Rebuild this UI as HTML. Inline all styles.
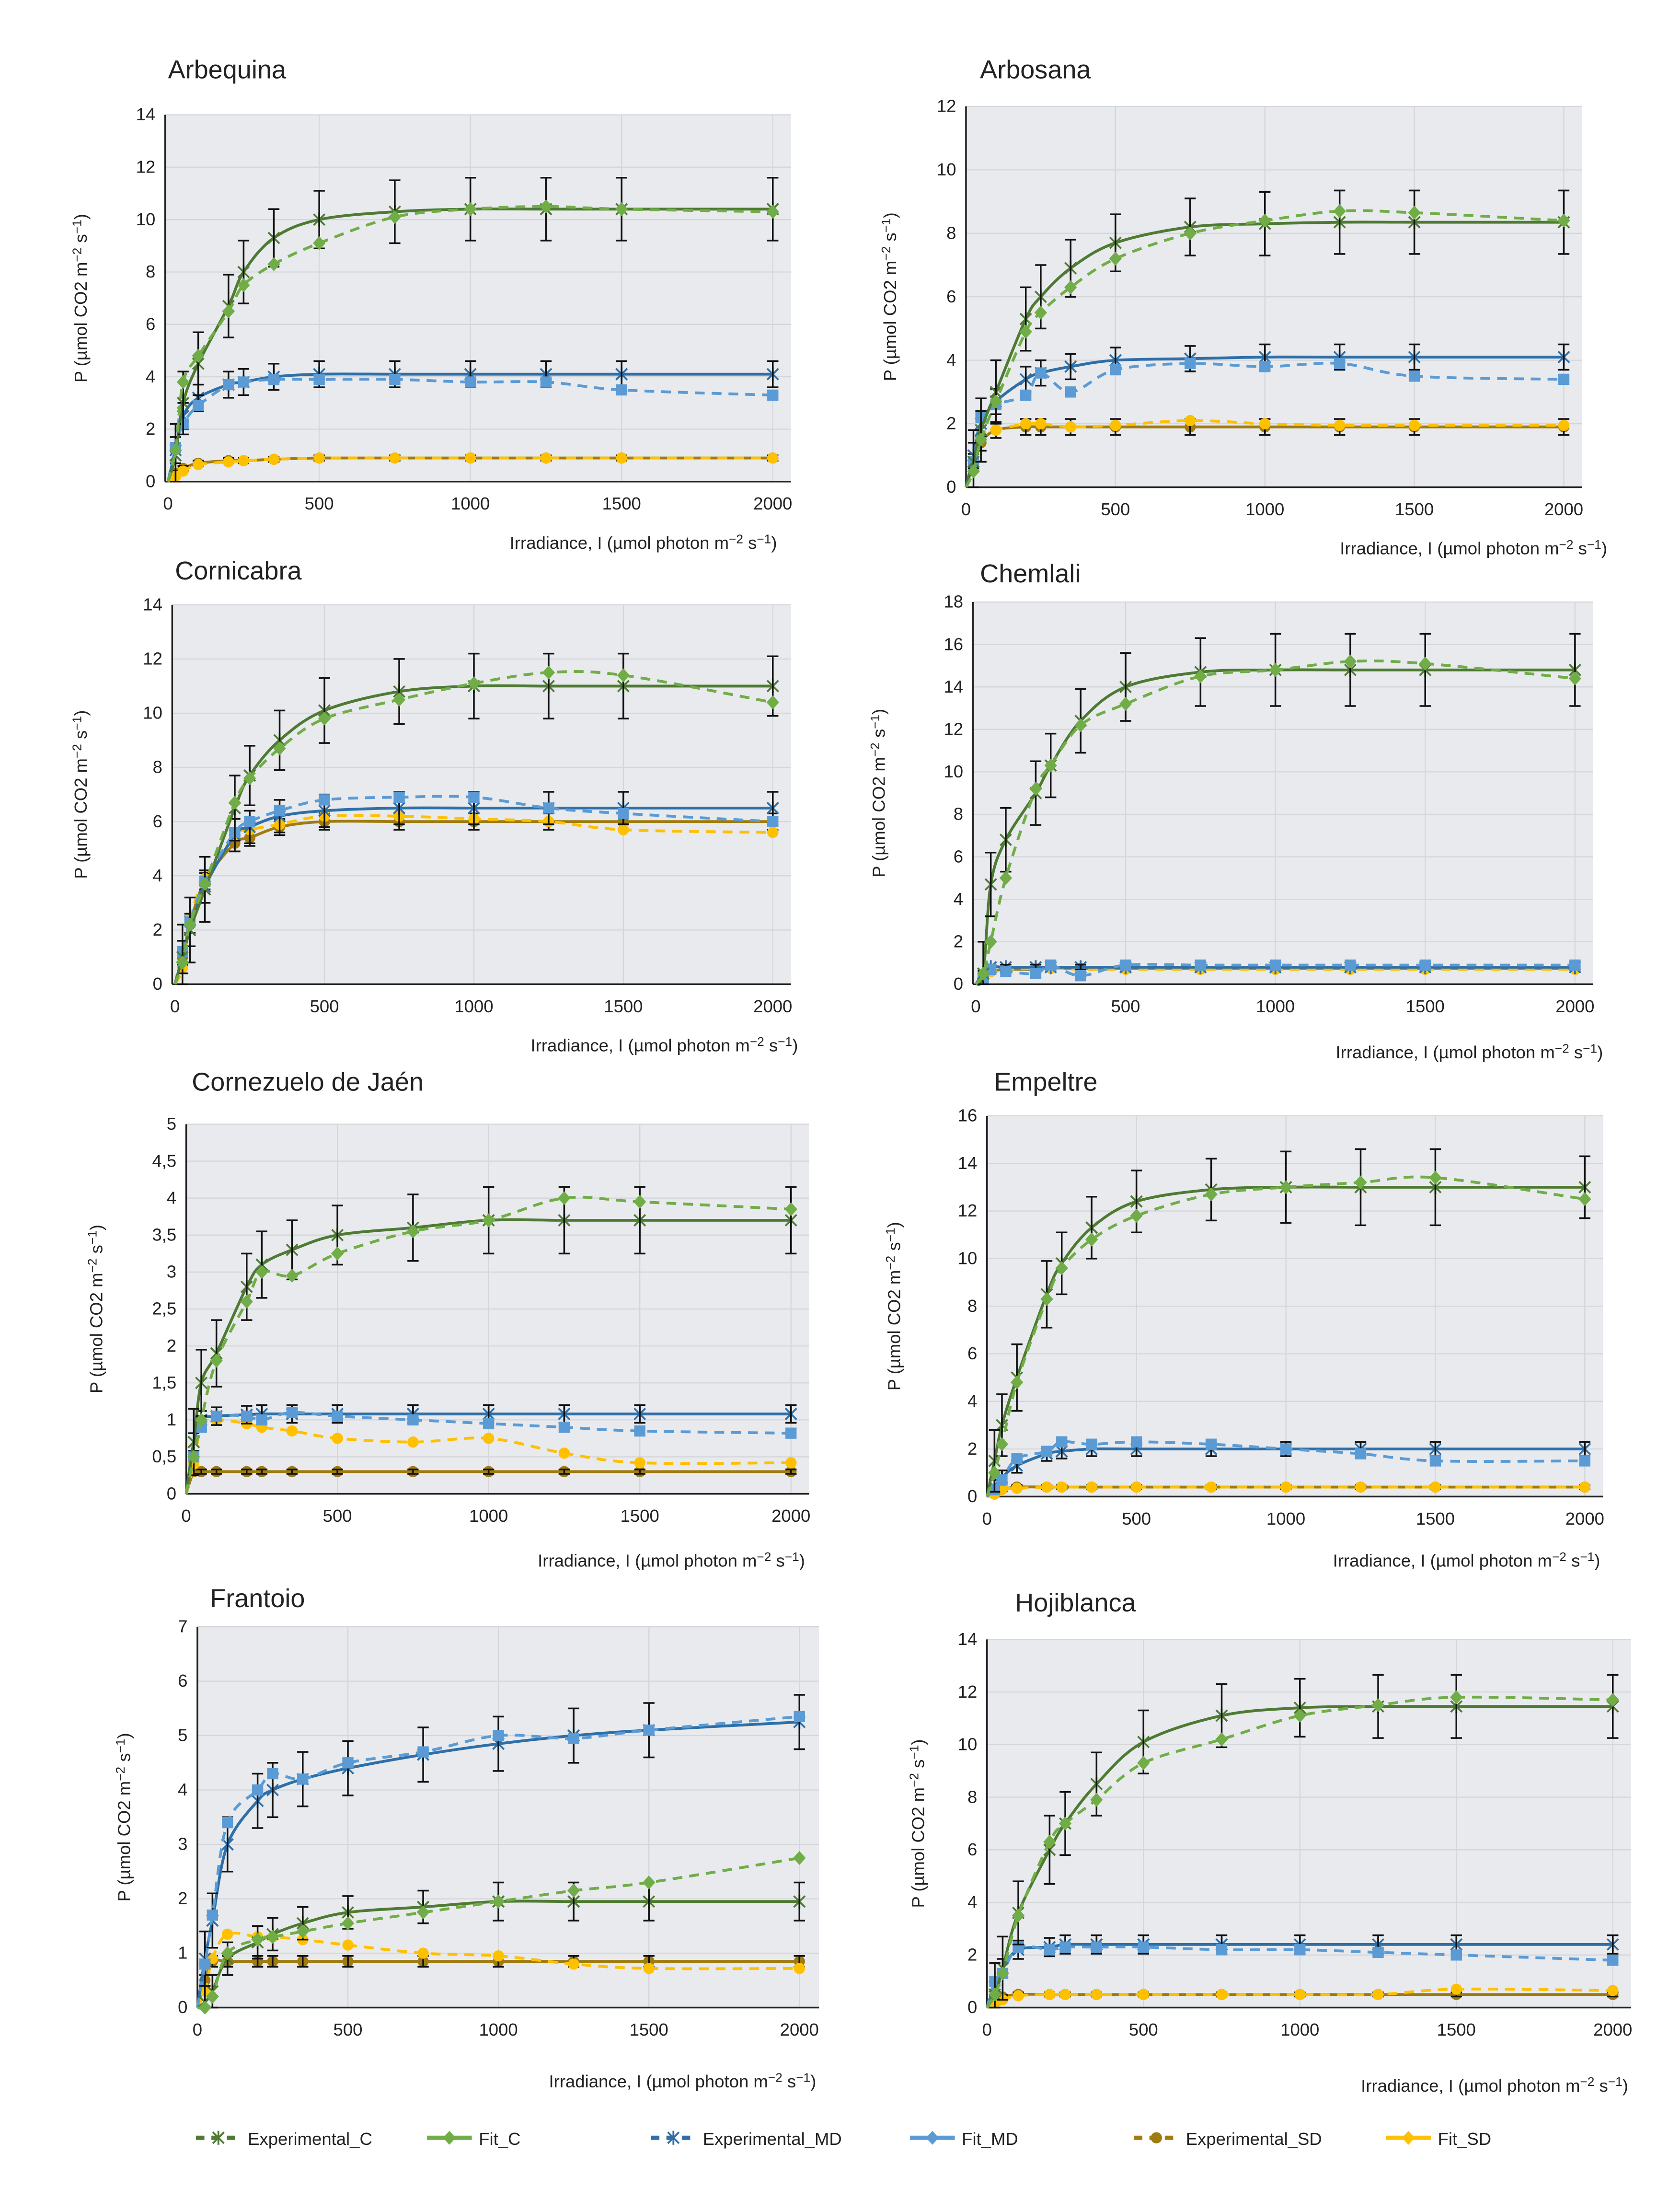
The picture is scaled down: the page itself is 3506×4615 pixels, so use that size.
<!DOCTYPE html>
<html><head><meta charset="utf-8"><style>
html,body{margin:0;padding:0;background:#fff;}
svg{display:block;font-family:"Liberation Sans",sans-serif;}
</style></head><body>
<svg id="fig" width="3506" height="4615" viewBox="0 0 1200 1580" preserveAspectRatio="none" xmlns="http://www.w3.org/2000/svg"></svg>
<script>
const irradiance=[25,50,100,200,250,350,500,750,1000,1250,1500,2000];
const xTicks=[0,500,1000,1500,2000];
// Arbequina
const arbequinaExpC=[1.0,3.0,4.5,6.7,8.0,9.3,10.0,10.3,10.4,10.4,10.4,10.4];
const arbequinaFitC=[1.2,3.8,4.8,6.5,7.5,8.3,9.1,10.1,10.4,10.5,10.4,10.3];
const arbequinaExpMD=[1.2,2.5,3.2,3.7,3.8,4.0,4.1,4.1,4.1,4.1,4.1,4.1];
const arbequinaFitMD=[1.3,2.2,2.9,3.7,3.8,3.9,3.9,3.9,3.8,3.8,3.5,3.3];
const arbequinaExpSD=[0.3,0.5,0.7,0.8,0.8,0.85,0.9,0.9,0.9,0.9,0.9,0.9];
const arbequinaFitSD=[0.2,0.4,0.65,0.75,0.8,0.85,0.9,0.9,0.9,0.9,0.9,0.9];
const arbequinaErr=[1.2,1.2,1.2,1.2,1.2,1.1,1.1,1.2,1.2,1.2,1.2,1.2];
// Arbosana
const arbosanaExpC=[0.8,1.8,3.0,5.3,6.0,6.9,7.7,8.2,8.3,8.35,8.35,8.35];
const arbosanaFitC=[0.5,1.5,2.7,4.9,5.5,6.3,7.2,8.0,8.4,8.7,8.65,8.4];
const arbosanaExpMD=[1.0,2.0,2.7,3.4,3.6,3.8,4.0,4.05,4.1,4.1,4.1,4.1];
const arbosanaFitMD=[0.8,2.2,2.6,2.9,3.6,3.0,3.7,3.9,3.8,3.9,3.5,3.4];
const arbosanaExpSD=[0.8,1.4,1.8,1.9,1.9,1.9,1.9,1.9,1.9,1.9,1.9,1.9];
const arbosanaFitSD=[0.6,1.6,1.8,2.0,2.0,1.9,1.95,2.1,2.0,1.95,1.95,1.95];
const arbosanaErr=[1.0,1.0,1.0,1.0,1.0,0.9,0.9,0.9,1.0,1.0,1.0,1.0];
// Cornicabra
const cornicabraExpC=[1.0,2.0,3.5,6.5,7.7,9.0,10.1,10.8,11.0,11.0,11.0,11.0];
const cornicabraFitC=[0.8,2.2,3.7,6.7,7.6,8.7,9.8,10.5,11.1,11.5,11.4,10.4];
const cornicabraExpMD=[1.0,2.0,3.6,5.5,5.8,6.2,6.4,6.5,6.5,6.5,6.5,6.5];
const cornicabraFitMD=[1.2,2.3,3.8,5.6,6.0,6.4,6.8,6.9,6.9,6.5,6.3,6.0];
const cornicabraExpSD=[1.0,2.2,3.8,5.2,5.4,5.8,6.0,6.0,6.0,6.0,6.0,6.0];
const cornicabraFitSD=[0.6,2.4,3.9,5.5,5.7,5.9,6.2,6.2,6.1,6.0,5.7,5.6];
const cornicabraErr=[1.2,1.2,1.2,1.2,1.1,1.1,1.2,1.2,1.2,1.2,1.2,1.1];
// Chemlali
const chemlaliExpC=[0.5,4.7,6.8,9.0,10.3,12.4,14.0,14.7,14.8,14.8,14.8,14.8];
const chemlaliFitC=[0.5,2.0,5.0,9.2,10.3,12.2,13.2,14.5,14.8,15.2,15.1,14.4];
const chemlaliExpMD=[0.5,0.8,0.8,0.8,0.8,0.8,0.8,0.8,0.8,0.8,0.8,0.8];
const chemlaliFitMD=[0.3,0.7,0.6,0.5,0.9,0.4,0.9,0.9,0.9,0.9,0.9,0.9];
const chemlaliExpSD=[0.4,0.6,0.7,0.7,0.75,0.75,0.75,0.75,0.75,0.75,0.75,0.75];
const chemlaliFitSD=[0.4,0.6,0.7,0.75,0.75,0.7,0.7,0.7,0.7,0.7,0.7,0.7];
const chemlaliErr=[1.5,1.5,1.5,1.5,1.5,1.5,1.6,1.6,1.7,1.7,1.7,1.7];
// Cornezuelo de Jaén
const cornezueloExpC=[0.7,1.5,1.9,2.8,3.1,3.3,3.5,3.6,3.7,3.7,3.7,3.7];
const cornezueloFitC=[0.5,1.0,1.8,2.6,3.0,2.95,3.25,3.55,3.7,4.0,3.95,3.85];
const cornezueloExpMD=[0.7,1.0,1.05,1.07,1.08,1.08,1.08,1.08,1.08,1.08,1.08,1.08];
const cornezueloFitMD=[0.5,0.9,1.05,1.05,1.0,1.1,1.05,1.0,0.95,0.9,0.85,0.82];
const cornezueloExpSD=[0.3,0.3,0.3,0.3,0.3,0.3,0.3,0.3,0.3,0.3,0.3,0.3];
const cornezueloFitSD=[0.4,0.9,1.0,0.95,0.9,0.85,0.75,0.7,0.75,0.55,0.42,0.42];
const cornezueloErr=[0.45,0.45,0.45,0.45,0.45,0.4,0.4,0.45,0.45,0.45,0.45,0.45];
// Empeltre
const empeltreExpC=[1.5,3.0,5.0,8.5,9.8,11.3,12.4,12.9,13.0,13.0,13.0,13.0];
const empeltreFitC=[1.0,2.2,4.8,8.3,9.6,10.8,11.8,12.7,13.0,13.2,13.4,12.5];
const empeltreExpMD=[0.4,0.8,1.3,1.8,1.9,2.0,2.0,2.0,2.0,2.0,2.0,2.0];
const empeltreFitMD=[0.3,0.7,1.6,1.9,2.3,2.2,2.3,2.2,2.0,1.8,1.5,1.5];
const empeltreExpSD=[0.2,0.3,0.4,0.4,0.4,0.4,0.4,0.4,0.4,0.4,0.4,0.4];
const empeltreFitSD=[0.1,0.3,0.35,0.4,0.4,0.4,0.4,0.4,0.4,0.4,0.4,0.4];
const empeltreErr=[1.3,1.3,1.4,1.4,1.3,1.3,1.3,1.3,1.5,1.6,1.6,1.3];
// Frantoio
const frantoioExpC=[0.1,0.3,0.9,1.2,1.35,1.55,1.75,1.85,1.95,1.95,1.95,1.95];
const frantoioFitC=[0.0,0.2,1.0,1.25,1.3,1.4,1.55,1.75,1.95,2.15,2.3,2.75];
const frantoioExpMD=[0.9,1.6,3.0,3.8,4.0,4.2,4.4,4.65,4.85,5.0,5.1,5.25];
const frantoioFitMD=[0.8,1.7,3.4,4.0,4.3,4.2,4.5,4.7,5.0,4.95,5.1,5.35];
const frantoioExpSD=[0.5,0.85,0.85,0.85,0.85,0.85,0.85,0.85,0.85,0.85,0.85,0.85];
const frantoioFitSD=[0.3,0.9,1.35,1.3,1.3,1.25,1.15,1.0,0.95,0.8,0.72,0.72];
const frantoioErr=[0.3,0.3,0.3,0.3,0.3,0.3,0.3,0.3,0.35,0.35,0.35,0.35];
// Hojiblanca
const hojiblancaExpC=[0.5,1.5,3.6,6.0,7.0,8.5,10.1,11.1,11.4,11.45,11.45,11.45];
const hojiblancaFitC=[0.5,1.3,3.5,6.3,7.0,7.9,9.3,10.2,11.1,11.5,11.8,11.7];
const hojiblancaExpMD=[0.8,1.5,2.2,2.3,2.4,2.4,2.4,2.4,2.4,2.4,2.4,2.4];
const hojiblancaFitMD=[1.0,1.3,2.3,2.2,2.3,2.3,2.3,2.2,2.2,2.1,2.0,1.8];
const hojiblancaExpSD=[0.2,0.4,0.5,0.5,0.5,0.5,0.5,0.5,0.5,0.5,0.5,0.5];
const hojiblancaFitSD=[0.2,0.3,0.45,0.5,0.5,0.5,0.5,0.5,0.5,0.5,0.7,0.65];
const hojiblancaErr=[1.2,1.2,1.2,1.3,1.2,1.2,1.2,1.2,1.1,1.2,1.2,1.2];
// typical error size for MD and SD experimental series per panel
const mdErr=[0.5,0.4,0.6,0.12,0.12,0.3,0.5,0.35];
const sdErr=[0.1,0.25,0.3,0.08,0.03,0.08,0.1,0.08];

const titles=["Arbequina","Arbosana","Cornicabra","Chemlali","Cornezuelo de Jaén","Empeltre","Frantoio","Hojiblanca"];
const yMaxes=[14,12,14,18,5,16,7,14];
const ySteps=[2,2,2,2,0.5,2,1,2];
const seriesSets=[
[arbequinaExpC,arbequinaFitC,arbequinaExpMD,arbequinaFitMD,arbequinaExpSD,arbequinaFitSD,arbequinaErr],
[arbosanaExpC,arbosanaFitC,arbosanaExpMD,arbosanaFitMD,arbosanaExpSD,arbosanaFitSD,arbosanaErr],
[cornicabraExpC,cornicabraFitC,cornicabraExpMD,cornicabraFitMD,cornicabraExpSD,cornicabraFitSD,cornicabraErr],
[chemlaliExpC,chemlaliFitC,chemlaliExpMD,chemlaliFitMD,chemlaliExpSD,chemlaliFitSD,chemlaliErr],
[cornezueloExpC,cornezueloFitC,cornezueloExpMD,cornezueloFitMD,cornezueloExpSD,cornezueloFitSD,cornezueloErr],
[empeltreExpC,empeltreFitC,empeltreExpMD,empeltreFitMD,empeltreExpSD,empeltreFitSD,empeltreErr],
[frantoioExpC,frantoioFitC,frantoioExpMD,frantoioFitMD,frantoioExpSD,frantoioFitSD,frantoioErr],
[hojiblancaExpC,hojiblancaFitC,hojiblancaExpMD,hojiblancaFitMD,hojiblancaExpSD,hojiblancaFitSD,hojiblancaErr]];

const layout=[
{l:118,r:565,x0:120,x1:552,t:82,b:344,tx:120,ty:56,lx:555,ly:392,yl:62},
{l:690,r:1130,x0:690,x1:1117,t:76,b:348,tx:700,ty:56,lx:1148,ly:396,yl:640},
{l:123,r:565,x0:125,x1:552,t:432,b:703,tx:125,ty:414,lx:570,ly:751,yl:62},
{l:695,r:1138,x0:697,x1:1125,t:430,b:703,tx:700,ty:416,lx:1145,ly:756,yl:632},
{l:133,r:578,x0:133,x1:565,t:803,b:1067,tx:137,ty:779,lx:575,ly:1119,yl:73},
{l:705,r:1145,x0:705,x1:1132,t:797,b:1069,tx:710,ty:779,lx:1143,ly:1119,yl:643},
{l:141,r:585,x0:141,x1:571,t:1162,b:1434,tx:150,ty:1148,lx:583,ly:1491,yl:93},
{l:705,r:1165,x0:705,x1:1152,t:1171,b:1434,tx:725,ty:1151,lx:1163,ly:1494,yl:660}];

const NS="http://www.w3.org/2000/svg";
const svg=document.getElementById('fig');
function mk(tag,attrs,parent){const e=document.createElementNS(NS,tag);for(const k in attrs)e.setAttribute(k,attrs[k]);(parent||svg).appendChild(e);return e;}
function smooth(pts){let d=`M${pts[0][0]},${pts[0][1]}`;for(let i=0;i<pts.length-1;i++){const p0=pts[Math.max(0,i-1)],p1=pts[i],p2=pts[i+1],p3=pts[Math.min(pts.length-1,i+2)];const c1=[p1[0]+(p2[0]-p0[0])/6,p1[1]+(p2[1]-p0[1])/6],c2=[p2[0]-(p3[0]-p1[0])/6,p2[1]-(p3[1]-p1[1])/6];d+=` C${c1[0]},${c1[1]} ${c2[0]},${c2[1]} ${p2[0]},${p2[1]}`;}return d;}
function marker(g,type,x,y,color){
 if(type==='x'){mk('path',{d:`M${x-4},${y-4}L${x+4},${y+4}M${x-4},${y+4}L${x+4},${y-4}M${x},${y-5}L${x},${y+5}`,stroke:color,'stroke-width':1.3,fill:'none'},g);}
 else if(type==='diamond'){mk('path',{d:`M${x},${y-5}L${x+4.5},${y}L${x},${y+5}L${x-4.5},${y}Z`,fill:color},g);}
 else if(type==='square'){mk('rect',{x:x-4,y:y-4,width:8,height:8,fill:color},g);}
 else {mk('circle',{cx:x,cy:y,r:4,fill:color},g);}
}
const styles=[
 {name:'experimental-c',color:'#4E7A33',dash:null,m:'x',w:2},
 {name:'fit-c',color:'#70AD47',dash:'7,5',m:'diamond',w:2},
 {name:'experimental-md',color:'#2E6FA8',dash:null,m:'x',w:2},
 {name:'fit-md',color:'#5B9BD5',dash:'7,5',m:'square',w:2},
 {name:'experimental-sd',color:'#A07C10',dash:null,m:'circle',w:2},
 {name:'fit-sd',color:'#FFC000',dash:'7,5',m:'circle',w:2}];

titles.forEach((title,pi)=>{
 const L=layout[pi],ymax=yMaxes[pi],step=ySteps[pi],S=seriesSets[pi];
 const g=mk('g',{});
 
 
 const xs=v=>L.x0+(L.x1-L.x0)*v/2000, ys=v=>L.b-(L.b-L.t)*v/ymax;
 const bg=mk('rect',{x:L.l,y:L.t,width:L.r-L.l,height:L.b-L.t,fill:'#E8EAED'},g);
 
 
 for(let v=0;v<=ymax+1e-9;v+=step){const y=ys(v);
  mk('line',{x1:L.l,x2:L.r,y1:y,y2:y,stroke:'#D4D6DA','stroke-width':0.8},g);
  const t=mk('text',{x:L.l-7,y:y+4,'text-anchor':'end','font-size':12.5,fill:'#222'},g);
  t.textContent=(Math.round(v*10)/10).toString().replace('.',',');
  
  }
 xTicks.forEach(v=>{const x=xs(v);
  if(v>0)mk('line',{x1:x,x2:x,y1:L.t,y2:L.b,stroke:'#D4D6DA','stroke-width':0.8},g);
  const t=mk('text',{x:x,y:L.b+20,'text-anchor':'middle','font-size':12.5,fill:'#222'},g);
  t.textContent=v;
  
  });
 mk('line',{x1:L.l,x2:L.l,y1:L.t,y2:L.b,stroke:'#222','stroke-width':1.2},g);
 mk('line',{x1:L.l,x2:L.r,y1:L.b,y2:L.b,stroke:'#222','stroke-width':1.2},g);
 const tt=mk('text',{x:L.tx,y:L.ty,'font-size':18.5,fill:'#222'},g);tt.textContent=title;
 
 
 const xl=mk('text',{x:L.lx,y:L.ly,'text-anchor':'end','font-size':12.5,fill:'#222'},g);
 xl.innerHTML='Irradiance, I (µmol photon m<tspan dy="-4" font-size="9">−2</tspan><tspan dy="4"> s</tspan><tspan dy="-4" font-size="9">−1</tspan><tspan dy="4">)</tspan>';
 
 
 const cy=(L.t+L.b)/2;
 const yl=mk('text',{x:0,y:0,'text-anchor':'middle','font-size':12.5,fill:'#222',transform:`translate(${L.yl},${cy}) rotate(-90)`},g);
 yl.innerHTML='P (µmol CO2 m<tspan dy="-4" font-size="9">−2</tspan><tspan dy="4"> s</tspan><tspan dy="-4" font-size="9">−1</tspan><tspan dy="4">)</tspan>';
 
 
 const err=S[6];
 [4,5,2,3,0,1].forEach(si=>{
  const st=styles[si],vals=S[si];
  const pts=irradiance.map((v,i)=>[xs(v),ys(vals[i])]);
  const sg=mk('g',{},g);
  
  
  const a={d:smooth([[xs(0),ys(0)]].concat(pts)),fill:'none',stroke:st.color,'stroke-width':st.w};
  if(st.dash)a['stroke-dasharray']=st.dash;
  mk('path',a,sg);
  pts.forEach(p=>marker(sg,st.m,p[0],p[1],st.color));
  if(si%2===0){
   const e=si===0?err:err.map(()=>si===2?mdErr[pi]:sdErr[pi]);
   pts.forEach((p,i)=>{const y1=ys(vals[i]+e[i]),y2=ys(Math.max(0,vals[i]-e[i]));
    mk('path',{d:`M${p[0]},${y1}L${p[0]},${y2}M${p[0]-4},${y1}L${p[0]+4},${y1}M${p[0]-4},${y2}L${p[0]+4},${y2}`,stroke:'#111','stroke-width':1.2,fill:'none'},sg);});
  }
 });
});
const legendLabels=["Experimental_C","Fit_C","Experimental_MD","Fit_MD","Experimental_SD","Fit_SD"];
const legendX=[140,305,465,650,810,990];
const lg=mk('g',{});


legendLabels.forEach((lab,i)=>{
 const st=styles[i],x=legendX[i],y=1527;
 const eg=mk('g',{},lg);
 
 
 const a={x1:x,x2:x+32,y1:y,y2:y,stroke:st.color,'stroke-width':3};
 if(i%2===0)a['stroke-dasharray']='6,5';
 mk('line',a,eg);
 marker(eg,i%2===0?(i===4?'circle':'x'):'diamond',x+16,y,st.color);
 const t=mk('text',{x:x+37,y:y+5,'font-size':12.5,fill:'#222'},eg);t.textContent=lab;
});
</script>
</body></html>
